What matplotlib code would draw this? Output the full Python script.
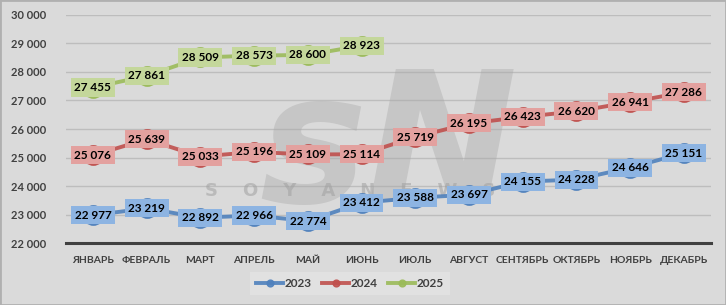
import matplotlib.pyplot as plt
from matplotlib.patches import Rectangle

months = ['ЯНВАРЬ', 'ФЕВРАЛЬ', 'МАРТ', 'АПРЕЛЬ', 'МАЙ', 'ИЮНЬ', 'ИЮЛЬ',
          'АВГУСТ', 'СЕНТЯБРЬ', 'ОКТЯБРЬ', 'НОЯБРЬ', 'ДЕКАБРЬ']
y2023 = [22977, 23219, 22892, 22966, 22774, 23412, 23588, 23697, 24155, 24228, 24646, 25151]
y2024 = [25076, 25639, 25033, 25196, 25109, 25114, 25719, 26195, 26423, 26620, 26941, 27286]
y2025 = [27455, 27861, 28509, 28573, 28600, 28923]
yticks = [22000, 23000, 24000, 25000, 26000, 27000, 28000, 29000, 30000]

plt.rcParams['font.family'] = ['Lato', 'DejaVu Sans']

bg = '#dadada'
fig = plt.figure(figsize=(7.26, 3.05), dpi=100, facecolor=bg)
ax = fig.add_axes([0.091, 0.203, 0.888, 0.748])
ax.set_facecolor(bg)

series = [
    ('2023', y2023, '#4f81bd', '#8db4e2'),
    ('2024', y2024, '#c0504d', '#e3a19f'),
    ('2025', y2025, '#9bbb59', '#c4d79b'),
]

# watermark
ax.text(0.5, 0.4, 'sN', transform=ax.transAxes, fontsize=130, fontstyle='italic',
        fontweight='bold', color='#a8a8a8', alpha=0.4, ha='center', va='center',
        family='DejaVu Sans', zorder=1.5)
ax.text(0.44, 0.23, 'S    O    Y    A    N    E    W    S', transform=ax.transAxes,
        fontsize=13, fontweight='bold', color='#a0a0a0', alpha=0.55, ha='center',
        va='center', family='DejaVu Sans', zorder=1.5)

for name, vals, lc, bc in series:
    x = list(range(len(vals)))
    ax.plot(x, vals, color=lc, lw=2.8, marker='o', markersize=14,
            markerfacecolor=lc, markeredgecolor=lc, label=name, zorder=3, alpha=0.9)
    for xi, v in zip(x, vals):
        ax.text(xi, v, f'{v:,}'.replace(',', ' '), ha='center', va='center',
                fontsize=8.5, fontweight='bold', color='black', zorder=4,
                bbox=dict(boxstyle='square,pad=0.3', fc=bc, ec='none'))

ax.set_xlim(-0.5, 11.5)
ax.set_ylim(22000, 30000)
ax.set_yticks(yticks)
ax.set_yticklabels([f'{t:,}'.replace(',', ' ') for t in yticks],
                   fontsize=8, fontweight='bold', color='#404040')
ax.set_xticks(range(12))
ax.set_xticklabels(months, fontsize=7.5, fontweight='bold', color='#404040')
ax.tick_params(axis='both', length=0)
ax.tick_params(axis='y', pad=14)
ax.tick_params(axis='x', pad=9)
ax.grid(axis='y', color='#bdbdbd', lw=1)
ax.set_axisbelow(True)
for s in ['top', 'right', 'left']:
    ax.spines[s].set_visible(False)
ax.spines['bottom'].set_color('#404040')
ax.spines['bottom'].set_linewidth(2.2)

leg = fig.legend(loc='center', bbox_to_anchor=(0.482, 0.07), ncol=3, frameon=True,
                 fontsize=8.5, handlelength=2.3, columnspacing=0.9, handletextpad=0.1,
                 markerscale=0.35, fancybox=False, borderpad=0.5)
leg.get_frame().set_facecolor('#e4e4e4')
leg.get_frame().set_edgecolor('none')
for t in leg.get_texts():
    t.set_color('#404040')
    t.set_fontweight('bold')

fig.patches.append(Rectangle((0, 0), 1, 1, transform=fig.transFigure, fill=False,
                             ec='#b0b0b0', lw=2))
fig.savefig('out.png', dpi=100, facecolor=bg)
